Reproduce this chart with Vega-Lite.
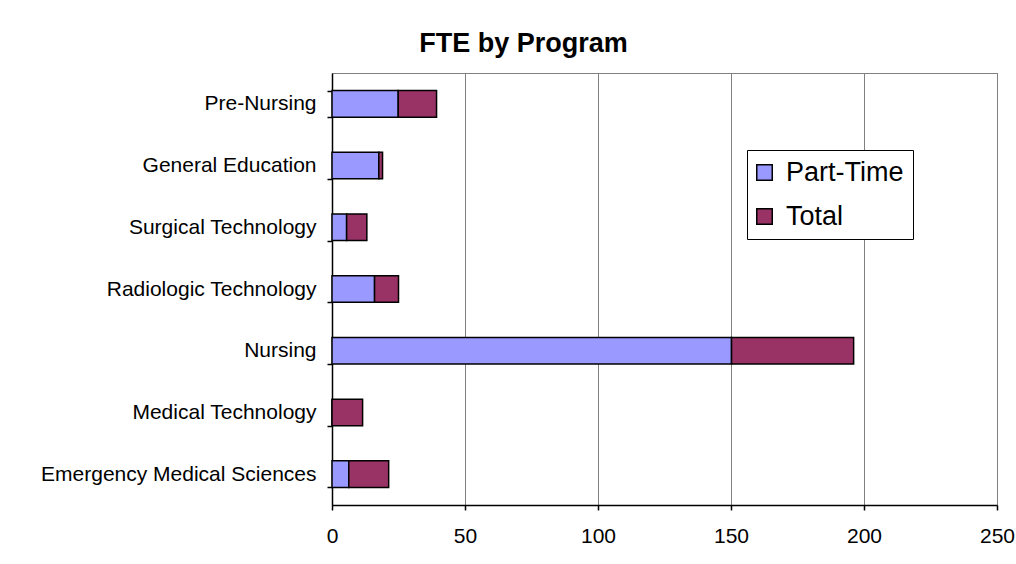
{
  "$schema": "https://vega.github.io/schema/vega-lite/v6.json",
  "width": 665,
  "height": 432,
  "autosize": {"type": "none"},
  "padding": {"left": 332, "top": 73, "right": 19, "bottom": 59},
  "background": "white",
  "title": {
    "text": "FTE by Program",
    "font": "Liberation Sans",
    "fontSize": 27,
    "fontWeight": "bold",
    "color": "black",
    "anchor": "middle",
    "frame": "group",
    "dx": -141,
    "dy": 39,
    "baseline": "bottom",
    "offset": 16
  },
  "data": {
    "values": [
      {"program": "Pre-Nursing", "series": "Part-Time", "value": 24.9},
      {"program": "Pre-Nursing", "series": "Total", "value": 14.4},
      {"program": "General Education", "series": "Part-Time", "value": 17.6},
      {"program": "General Education", "series": "Total", "value": 1.4},
      {"program": "Surgical Technology", "series": "Part-Time", "value": 5.5},
      {"program": "Surgical Technology", "series": "Total", "value": 7.6},
      {"program": "Radiologic Technology", "series": "Part-Time", "value": 16.0},
      {"program": "Radiologic Technology", "series": "Total", "value": 9.0},
      {"program": "Nursing", "series": "Part-Time", "value": 150.2},
      {"program": "Nursing", "series": "Total", "value": 45.9},
      {"program": "Medical Technology", "series": "Part-Time", "value": 0},
      {"program": "Medical Technology", "series": "Total", "value": 11.5},
      {"program": "Emergency Medical Sciences", "series": "Part-Time", "value": 6.3},
      {"program": "Emergency Medical Sciences", "series": "Total", "value": 15.0}
    ]
  },
  "mark": {"type": "bar", "stroke": "black", "strokeWidth": 1.5},
  "encoding": {
    "y": {
      "field": "program",
      "type": "nominal",
      "sort": ["Pre-Nursing", "General Education", "Surgical Technology", "Radiologic Technology", "Nursing", "Medical Technology", "Emergency Medical Sciences"],
      "scale": {"paddingInner": 0.57, "paddingOuter": 0.285},
      "axis": {
        "title": null,
        "labelFont": "Liberation Sans",
        "labelFontSize": 21,
        "labelColor": "black",
        "labelPadding": 11,
        "labelLimit": 0,
        "domainColor": "black",
        "domainWidth": 1.5,
        "tickColor": "black",
        "tickWidth": 1.5,
        "tickSize": 5,
        "tickBand": "extent",
        "grid": false
      }
    },
    "x": {
      "field": "value",
      "type": "quantitative",
      "stack": "zero",
      "scale": {"domain": [0, 250], "nice": false},
      "axis": {
        "title": null,
        "values": [0, 50, 100, 150, 200, 250],
        "labelFont": "Liberation Sans",
        "labelFontSize": 21,
        "labelColor": "black",
        "labelPadding": 15,
        "labelFlush": false,
        "domainColor": "black",
        "domainWidth": 1.5,
        "tickColor": "black",
        "tickWidth": 1.5,
        "tickSize": 5,
        "grid": true,
        "gridColor": "#808080",
        "gridWidth": 1
      }
    },
    "color": {
      "field": "series",
      "type": "nominal",
      "scale": {"domain": ["Part-Time", "Total"], "range": ["#9999FF", "#993366"]},
      "legend": {
        "title": null,
        "orient": "none",
        "legendX": 415,
        "legendY": 77,
        "symbolType": "square",
        "symbolSize": 240,
        "symbolStrokeColor": "black",
        "symbolStrokeWidth": 1.5,
        "symbolOpacity": 1,
        "symbolOffset": -5,
        "labelFont": "Liberation Sans",
        "labelFontSize": 27,
        "labelColor": "black",
        "labelOffset": 8,
        "rowPadding": 16,
        "padding": 9,
        "fillColor": "white",
        "strokeColor": "black"
      }
    },
    "order": {"field": "series", "sort": "ascending"}
  },
  "config": {
    "view": {"stroke": "#808080", "strokeWidth": 1}
  }
}
